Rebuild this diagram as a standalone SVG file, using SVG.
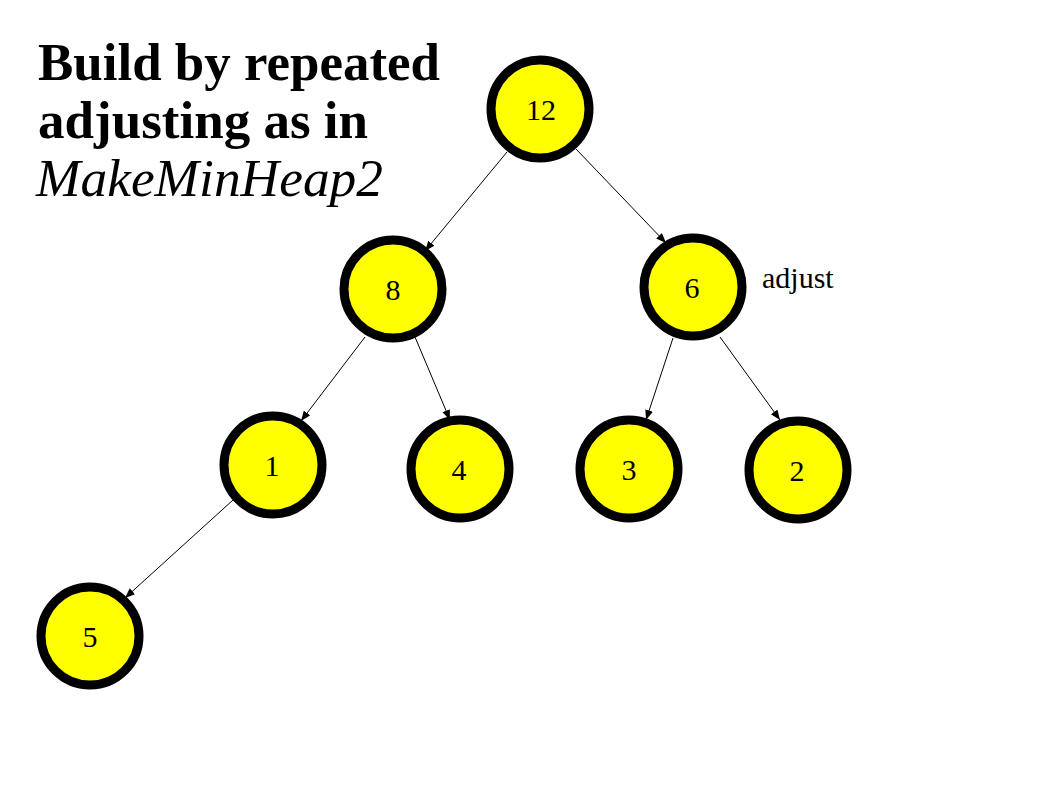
<svg xmlns="http://www.w3.org/2000/svg" width="1058" height="793" viewBox="0 0 1058 793">
<style>
.node circle{fill:#ffff00;stroke:#000;stroke-width:9}
.node text{font-family:"Liberation Serif","Times New Roman",serif;font-size:30px;fill:#000;text-anchor:middle}
.edge{stroke:#000;stroke-width:1;fill:none;marker-end:url(#arr)}
.title{font-family:"Liberation Serif","Times New Roman",serif;font-size:52px;fill:#000}
</style>
<defs>
<marker id="arr" markerUnits="userSpaceOnUse" markerWidth="12" markerHeight="10" refX="10" refY="4" orient="auto">
<path d="M0,0 L10,4 L0,8 z" fill="#000"/>
</marker>
</defs>
<rect width="1058" height="793" fill="#fff"/>
<g id="title">
<text class="title" x="38" y="80" font-weight="bold" textLength="402" lengthAdjust="spacingAndGlyphs">Build by repeated</text>
<text class="title" x="38" y="138" font-weight="bold" textLength="330" lengthAdjust="spacingAndGlyphs">adjusting as in</text>
<text class="title" x="36" y="196" font-style="italic" textLength="347" lengthAdjust="spacingAndGlyphs">MakeMinHeap2</text>
</g>
<g id="connectors">
<line class="edge" x1="507" y1="152" x2="425" y2="251"/>
<line class="edge" x1="576" y1="149" x2="666" y2="243"/>
<line class="edge" x1="365" y1="337" x2="301" y2="421"/>
<line class="edge" x1="415" y1="337" x2="450" y2="420"/>
<line class="edge" x1="673" y1="338" x2="646" y2="420"/>
<line class="edge" x1="720" y1="337" x2="780" y2="420"/>
<line class="edge" x1="233" y1="500" x2="125" y2="598"/>
</g>
<g id="n12" class="node"><circle cx="540" cy="109" r="49"/><text x="541" y="120">12</text></g>
<g id="n8" class="node"><circle cx="393" cy="289" r="49"/><text x="393" y="300">8</text></g>
<g id="n6" class="node"><circle cx="693" cy="287" r="49"/><text x="692" y="298">6</text></g>
<g id="n1" class="node"><circle cx="273" cy="465" r="49"/><text x="272" y="476">1</text></g>
<g id="n4" class="node"><circle cx="460" cy="469" r="49"/><text x="459" y="480">4</text></g>
<g id="n3" class="node"><circle cx="629" cy="469" r="49"/><text x="629" y="480">3</text></g>
<g id="n2" class="node"><circle cx="798" cy="470" r="49"/><text x="797" y="481">2</text></g>
<g id="n5" class="node"><circle cx="90" cy="636" r="49"/><text x="90" y="647">5</text></g>
<g id="label-adjust"><text x="762" y="288" font-family="'Liberation Serif','Times New Roman',serif" font-size="30" fill="#000">adjust</text></g>
</svg>
